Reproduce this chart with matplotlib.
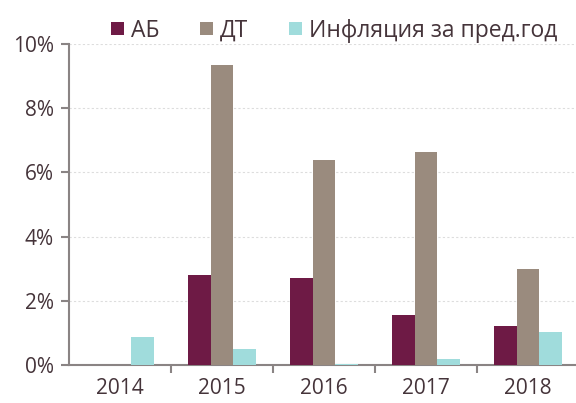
import matplotlib

matplotlib.use("Agg")
import matplotlib.pyplot as plt
import numpy as np
from matplotlib.ticker import FuncFormatter, FixedLocator

years = ["2014", "2015", "2016", "2017", "2018"]
ab = [0.0, 2.80, 2.71, 1.55, 1.21]
dt = [0.0, 9.35, 6.39, 6.63, 3.00]
inflation = [0.86, 0.50, 0.02, 0.18, 1.03]
series_names = ["АБ", "ДТ", "Инфляция за пред.год"]
colors = ["#6e1a45", "#9a8b7e", "#a0dcdc"]
text_color = "#45343a"
axis_color = "#8a8484"

plt.rcParams["font.family"] = ["Open Sans", "DejaVu Sans"]

fig = plt.figure(figsize=(5.76, 4.03), dpi=100)
ax = fig.add_axes([0.12, 0.094, 0.885, 0.797])

x = np.arange(len(years))
width = 0.22
for i, (vals, name, c) in enumerate(zip([ab, dt, inflation], series_names, colors)):
    ax.bar(x + (i - 1) * width, vals, width, color=c, label=name, zorder=3)

ax.set_xlim(-0.5, len(years) - 0.5)
ax.set_ylim(0, 10)
ax.set_yticks(np.arange(0, 11, 2))
ax.yaxis.set_major_formatter(FuncFormatter(lambda v, _: f"{v:.0f}%"))
ax.set_xticks(x)
ax.set_xticklabels(years)
ax.xaxis.set_minor_locator(FixedLocator(np.arange(0.5, len(years) - 0.5, 1)))
ax.tick_params(axis="x", which="major", length=0, pad=9, labelsize=15, labelcolor=text_color)
ax.tick_params(axis="x", which="minor", length=6, width=1.5, color=axis_color, direction="out")
ax.tick_params(axis="y", length=6, width=1.5, color=axis_color, labelsize=15, labelcolor=text_color, pad=5)

ax.grid(axis="y", color="#dddddd", linestyle=(0, (2, 2)), linewidth=0.8, zorder=0)
for side in ["top", "right"]:
    ax.spines[side].set_visible(False)
for side in ["left", "bottom"]:
    ax.spines[side].set_color(axis_color)
    ax.spines[side].set_linewidth(1.5)

leg = fig.legend(loc="upper center", bbox_to_anchor=(0.58, 1.005), ncol=3, frameon=False,
                 fontsize=16.5, handlelength=0.55, handleheight=0.55, handletextpad=0.3,
                 columnspacing=1.8)
for t in leg.get_texts():
    t.set_color(text_color)

fig.savefig("out.png", dpi=100)
